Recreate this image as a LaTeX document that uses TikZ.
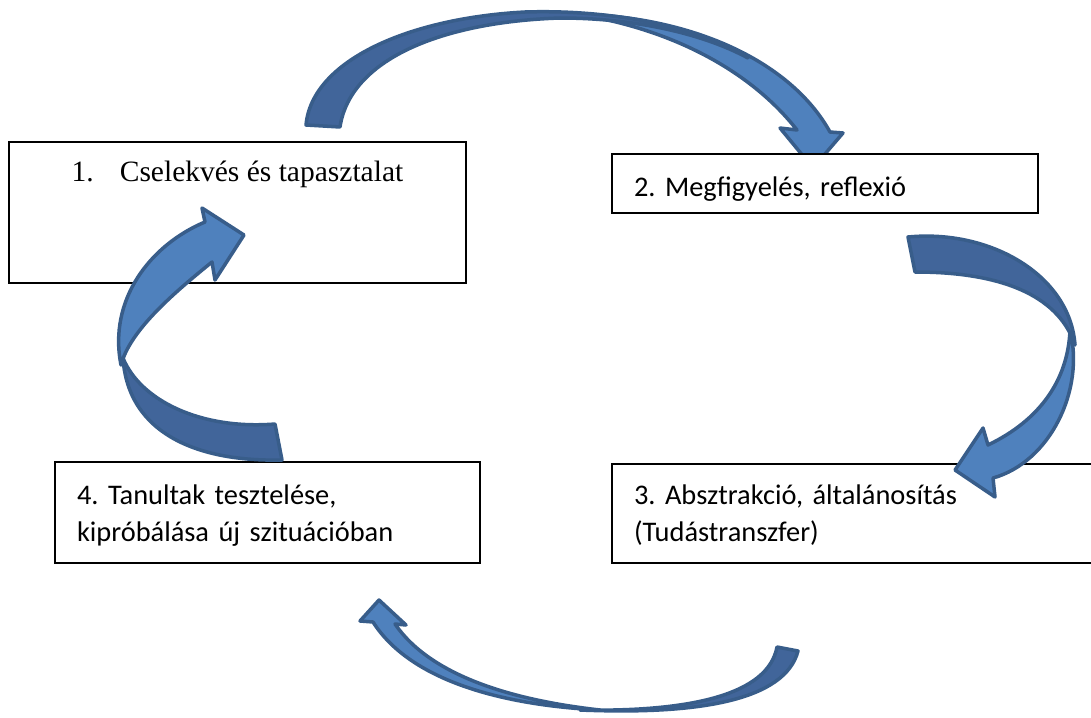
\documentclass[tikz,border=0pt]{standalone}
\usepackage{fontspec}
\usepackage{tikz}
\newfontfamily\calibrifont{Carlito}
\newfontfamily\timesfont{Liberation Serif}
\definecolor{bandlight}{HTML}{4F81BD}
\definecolor{banddark}{HTML}{41659A}
\definecolor{bandline}{HTML}{385D8A}
\frenchspacing

\begin{document}
\begin{tikzpicture}[x=1pt,y=-1pt,
	stage/.style={rectangle, draw, line width=2pt, fill=white, anchor=north west,
		inner ysep=0pt, inner xsep=22pt, align=left,
		font=\calibrifont\fontsize{28.4}{37}\selectfont},
	stageT/.style={rectangle, draw, line width=2pt, fill=white, anchor=north west,
		inner sep=0pt, font=\timesfont\fontsize{29.5}{36}\selectfont},
	bandL/.style={draw=bandline, fill=bandlight, line width=3.5pt, line join=round},
	bandD/.style={draw=bandline, fill=banddark, line width=3.5pt, line join=round}]
	\useasboundingbox (0,0) rectangle (1091,717);
	\clip (0,0) rectangle (1091,717);
	% top arrow
	\draw[bandL] (575,14) .. controls (690,16) and (790,60) .. (830,132) -- (843,133) -- (813,168) -- (780,128) -- (797,130) .. controls (750,70) and (670,28) .. (575,14) -- cycle;
	\draw[bandD] (306,125) .. controls (312,60) and (410,18) .. (525,12) .. controls (620,9) and (705,30) .. (748,58) .. controls (700,32) and (630,18) .. (560,18) .. controls (440,22) and (350,60) .. (340,127) -- cycle;
	% boxes
	\node[stageT, minimum width=457pt, text height=39pt, text depth=102pt] (S1) at (8,141) {1.\hspace{26pt}Cselekvés és tapasztalat};
	\node[stage, text width=382pt, text height=42pt, text depth=17pt] (S2) at (611,153) {2. Megfigyelés, reflexió};
	\node[stage, text width=480pt, text height=40pt, text depth=59pt] (S3) at (611,463) {3. Absztrakció, általánosítás\\(Tudástranszfer)};
	\node[stage, text width=381pt, text height=42pt, text depth=59pt] (S4) at (54,461) {4. Tanultak tesztelése,\\kipróbálása új szituációban};
	% right arrow
	\draw[bandL] (1070,330) .. controls (1085,390) and (1050,462) .. (993,478) -- (995,497) -- (955,470) -- (983,428) -- (988,445) .. controls (1040,420) and (1068,380) .. (1070,330) -- cycle;
	\draw[bandD] (908,237) .. controls (990,229) and (1070,275) .. (1075,345) .. controls (1060,300) and (1010,272) .. (915,272) -- cycle;
	% left arrow
	\draw[bandL] (121,365) .. controls (108,300) and (150,245) .. (205,222) -- (202,208) -- (244,235) -- (215,280) -- (212,262) .. controls (175,292) and (130,330) .. (121,365) -- cycle;
	\draw[bandD] (282,460) .. controls (200,462) and (128,435) .. (123,358) .. controls (140,400) and (200,430) .. (275,424) -- cycle;
	% bottom arrow
	\draw[bandL] (360,621) -- (379,600) -- (406,625) -- (395,624) .. controls (430,675) and (510,700) .. (600,710) .. controls (500,705) and (410,680) .. (373,622) -- cycle;
	\draw[bandD] (798,651) .. controls (785,700) and (700,715) .. (580,710) .. controls (690,712) and (768,695) .. (777,647) -- cycle;
\end{tikzpicture}
\end{document}
